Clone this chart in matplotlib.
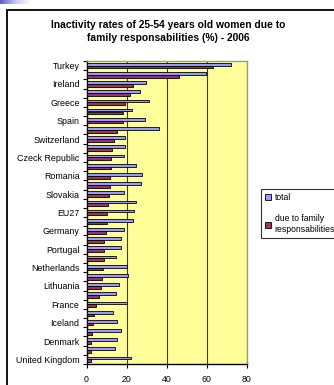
import numpy as np
import matplotlib
matplotlib.use('Agg')
import matplotlib.pyplot as plt
from matplotlib.patches import Rectangle

plt.rcParams['font.family'] = ['Liberation Sans', 'DejaVu Sans']

# categories top to bottom (only every other one is labelled in the original)
countries = ['Turkey', 'Malta', 'Ireland', 'Luxembourg', 'Greece', 'Italy',
             'Spain', 'Cyprus', 'Switzerland', 'Austria', 'Czeck Republic',
             'Hungary', 'Romania', 'Belgium', 'Slovakia', 'Poland', 'EU27',
             'Bulgaria', 'Germany', 'Croatia', 'Portugal', 'Norway',
             'Netherlands', 'Latvia', 'Lithuania', 'Estonia', 'France',
             'Slovenia', 'Iceland', 'Finland', 'Denmark', 'Sweden',
             'United Kingdom']
total = [71.8, 59.5, 29.7, 26.5, 31, 22.7, 29, 36, 19, 19.2, 18.7,
         24.7, 27.5, 27.2, 18.8, 24.5, 23.7, 23.2, 18.7, 17.2, 17.2, 14.5,
         20.3, 20.7, 16.2, 14.8, 20, 13.3, 15.2, 17, 15, 14, 22.3]
family = [63, 46.3, 23, 21.5, 19, 18.2, 18.2, 15.2, 13.7, 12.7, 12.2,
          12.2, 11.7, 11.7, 11.3, 10.8, 10.2, 10, 9.8, 8.8, 8.7, 8.7,
          8.2, 7.7, 7.1, 6.2, 4.9, 3.8, 3.2, 2.5, 2.2, 2, 2.2]
xticks = [0, 20, 40, 60, 80]

fig = plt.figure(figsize=(3.34, 3.85), dpi=100)

# slide frame (left and top edges visible)
fig.patches.append(Rectangle((7.3/334, -0.1), 1.2, (385-10)/385 + 0.1,
                             transform=fig.transFigure, fill=False,
                             edgecolor='black', linewidth=1.3))

# small gradient decoration in the top-left corner
gax = fig.add_axes([0, 1 - 4/385, 32/334, 4/385])
grad = np.linspace(0, 1, 64).reshape(1, -1)
gax.imshow(grad, aspect='auto', cmap=matplotlib.colors.LinearSegmentedColormap.from_list(
    'g', ['#6060c0', '#c8c8f0', '#ffffff']))
gax.axis('off')

ax = fig.add_axes([86.5/334, 21/385, 160.5/334, 303/385])
ax.set_facecolor('#ffff99')

y = np.arange(len(countries))
h = 0.3
ax.barh(y - h/2, total, height=h, color='#9999ff', edgecolor='black',
        linewidth=0.6, label='total', zorder=3)
ax.barh(y + h/2, family, height=h, color='#993366', edgecolor='black',
        linewidth=0.6, label='due to family\nresponsabilities', zorder=3)

ax.set_xlim(0, 80)
ax.set_ylim(len(countries) - 0.5, -0.5)
ax.set_xticks(xticks)
ax.set_xticklabels([str(t) for t in xticks], fontsize=6.3)
ax.tick_params(axis='x', length=3, width=0.8, pad=5)
ax.grid(axis='x', color='#333333', linewidth=0.8, zorder=1)

# boundary ticks on y, labels every other category
ax.set_yticks(np.arange(len(countries) + 1) - 0.5)
ax.set_yticklabels([])
ax.tick_params(axis='y', length=3, width=0.8)
ax.set_yticks(y[::2], minor=True)
ax.set_yticklabels(countries[::2], minor=True, fontsize=6.4)
ax.tick_params(axis='y', which='minor', length=0, pad=5)

for s in ['top', 'right']:
    ax.spines[s].set_color('#999999')
    ax.spines[s].set_linewidth(1.0)
for s in ['left', 'bottom']:
    ax.spines[s].set_color('black')
    ax.spines[s].set_linewidth(1.0)

fig.text(0.503, 0.918,
         'Inactivity rates of 25-54 years old women due to\nfamily responsabilities (%) - 2006',
         ha='center', va='center', fontsize=7.4, fontweight='bold', linespacing=1.3)

leg = fig.legend(loc='upper left', bbox_to_anchor=(261/334, (385-189)/385),
                 fontsize=6.2, frameon=True, fancybox=False, handlelength=0.7,
                 handleheight=0.7, handletextpad=0.4, labelspacing=1.4,
                 borderpad=0.5, borderaxespad=0)
leg.get_frame().set_edgecolor('black')
leg.get_frame().set_linewidth(0.8)

fig.savefig('out.png', dpi=100)
